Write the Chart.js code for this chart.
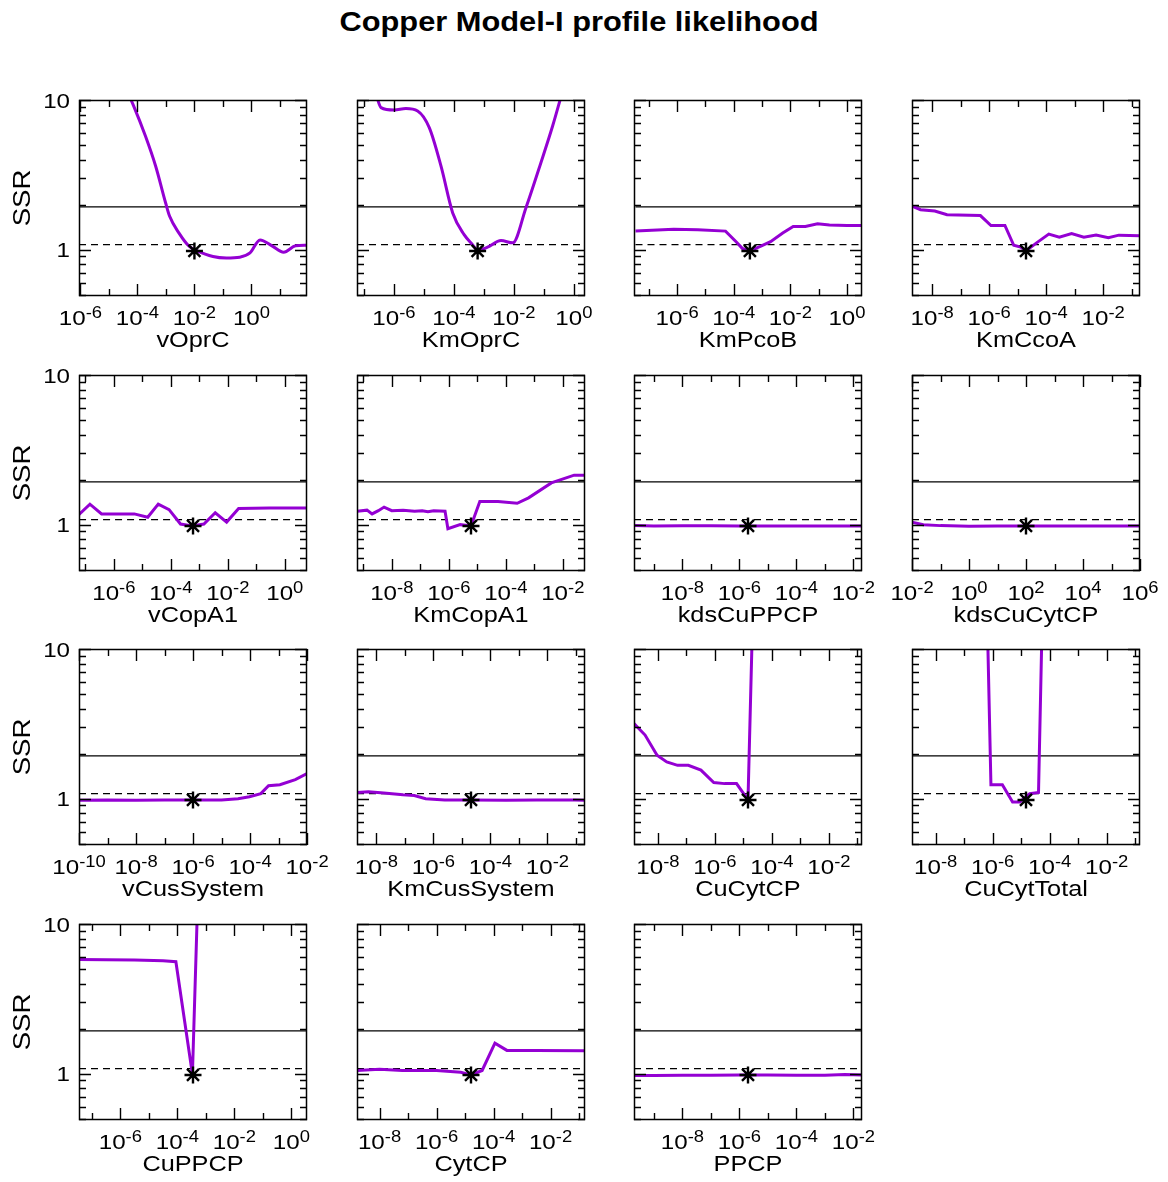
<!DOCTYPE html>
<html><head><meta charset="utf-8">
<script src="https://cdn.jsdelivr.net/npm/chart.js@4.4.1/dist/chart.umd.min.js"></script>
<style>
html,body{margin:0;padding:0;background:#fff;}
#wrap{position:relative;width:1168px;height:1182px;overflow:hidden;background:#fff;}
#title{position:absolute;left:79px;width:1000px;top:5px;text-align:center;font:bold 28px "Liberation Sans",Arial,sans-serif;color:#000;transform:scaleX(1.1);transform-origin:50% 50%;white-space:nowrap;line-height:34px;}
canvas{position:absolute;}
</style></head><body><div id="wrap"><div id="title">Copper Model-I profile likelihood</div></div>
<script>
// ---------------- data ----------------
const paramNames = ['vOprC','KmOprC','KmPcoB','KmCcoA','vCopA1','KmCopA1','kdsCuPPCP','kdsCuCytCP',
  'vCusSystem','KmCusSystem','CuCytCP','CuCytTotal','CuPPCP','CytCP','PPCP'];
const xMin = [8.91e-7, 5.89e-8, 3.39e-8, 1.95e-9, 6.03e-8, 6.03e-10, 2.0e-10, 0.01,
  1e-10, 2.09e-9, 1.45e-9, 1.48e-9, 3.55e-8, 1.62e-9, 2.0e-10];
const xMax = [89.1, 2.34, 3.39, 0.195, 6.03, 6.03e-2, 2.0e-2, 1e6,
  1e-2, 0.209, 0.145, 0.148, 3.55, 0.162, 2.0e-2];
const optX = [1.0e-2, 6.17e-4, 3.72e-4, 1.95e-5, 6.03e-4, 6.03e-6, 2.0e-6, 100,
  1e-6, 2.09e-5, 1.45e-5, 1.48e-5, 3.55e-4, 1.62e-5, 2.0e-6];
const optSSR = [0.98,0.98,0.98,0.98,0.98,0.98,0.98,0.98,0.98,0.98,0.98,0.98,0.98,0.98,0.98];
const ssrThreshold = 1.93;      // solid line
const ssrOptimumBand = 1.08;    // dashed line
const yMin = 0.49, yMax = 10;
const yTickLabels = ['1', '10'];
const yTickValues = [0.5,0.6,0.7,0.8,0.9,1,2,3,4,5,6,7,8,9,10];
const yAxisTitle = 'SSR';
const titleText = 'Copper Model-I profile likelihood';

const vOprC_x = [3.55e-5,7.41e-5,1.91e-4,4.37e-4,9.77e-4,1.35e-3,2.88e-3,6.61e-3,1.15e-2,4.47e-2,0.132,0.389,0.891,2.0,5.25,13.5,35.5,89.1];
const vOprC_ssr = [12.5,9.1,5.74,3.61,2.05,1.67,1.29,1.05,0.99,0.90,0.88,0.89,0.95,1.16,1.06,0.96,1.06,1.07];
const KmOprC_x = [2.51e-7,3.72e-7,1.02e-6,2.51e-6,6.17e-6,1.51e-5,3.72e-5,9.12e-5,2.19e-4,4.17e-4,6.17e-4,1.32e-3,3.72e-3,9.12e-3,2.51e-2,7.94e-2,0.195,0.447];
const KmOprC_ssr = [11,8.9,8.57,8.76,8.44,6.53,3.61,1.76,1.26,1.08,0.99,1.04,1.15,1.11,1.9,3.81,6.7,12];
const KmPcoB_x = [3.39e-8,7.59e-7,5.37e-6,5.13e-5,1.26e-4,2.0e-4,3.72e-4,8.71e-4,2.0e-3,5.37e-3,1.26e-2,3.39e-2,9.12e-2,0.24,1.0,3.39];
const KmPcoB_ssr = [1.33,1.37,1.36,1.33,1.12,1.02,0.98,1.05,1.13,1.29,1.43,1.43,1.49,1.46,1.45,1.45];
const KmCcoA_x = [1.95e-9,3.89e-9,1.23e-8,3.31e-8,4.9e-7,1.15e-6,3.55e-6,7.24e-6,1.26e-5,1.95e-5,4.57e-5,1.23e-4,2.88e-4,7.76e-4,2.09e-3,5.62e-3,1.51e-2,3.55e-2,0.195];
const KmCcoA_ssr = [1.95,1.85,1.81,1.71,1.69,1.45,1.45,1.07,1.04,0.98,1.11,1.27,1.21,1.28,1.21,1.25,1.2,1.25,1.24];
const vCopA1_x = [6.03e-8,1.45e-7,3.72e-7,5.25e-6,1.55e-5,3.63e-5,8.71e-5,2.19e-4,5.62e-4,1.45e-3,3.63e-3,9.12e-3,2.4e-2,0.288,6.03];
const vCopA1_ssr = [1.17,1.37,1.18,1.18,1.12,1.37,1.26,1.01,0.98,1.01,1.2,1.04,1.28,1.29,1.29];
const KmCopA1_x = [6.03e-10,1.35e-9,2.04e-9,3.39e-9,5.37e-9,1e-8,2.51e-8,6.31e-8,1.17e-7,1.86e-7,2.95e-7,7.41e-7,9.33e-7,2.51e-6,6.03e-6,1.23e-5,5.37e-5,2.51e-4,6.31e-4,3.98e-3,2.51e-2,6.03e-2];
const KmCopA1_ssr = [1.23,1.25,1.18,1.24,1.31,1.24,1.25,1.23,1.24,1.22,1.24,1.23,0.94,1.0,0.98,1.43,1.43,1.39,1.51,1.9,2.14,2.14];
const kdsCuPPCP_x = [2.0e-10,1e-9,1e-8,1e-7,1e-6,1e-5,1e-4,1e-3,1e-2,2.0e-2];
const kdsCuPPCP_ssr = [0.985,0.978,0.982,0.982,0.981,0.981,0.98,0.981,0.979,0.978];
const kdsCuCytCP_x = [0.01,0.0251,0.1,1,10,100,1000,1e4,1e5,1e6];
const kdsCuCytCP_ssr = [1.04,1.0,0.985,0.975,0.978,0.98,0.98,0.98,0.978,0.978];
const vCusSystem_x = [1e-10,1e-9,1e-8,1e-7,1e-6,1e-5,3.8e-5,9.55e-5,2.4e-4,4.47e-4,1.12e-3,3.89e-3,1e-2];
const vCusSystem_ssr = [0.975,0.98,0.975,0.978,0.98,0.98,1.0,1.03,1.08,1.22,1.24,1.34,1.47];
const KmCusSystem_x = [2.09e-9,5.25e-9,1.82e-8,8.51e-8,2.14e-7,5.37e-7,2.51e-6,2.09e-5,3.55e-4,4.17e-3,9.12e-2,0.209];
const KmCusSystem_ssr = [1.1,1.11,1.09,1.06,1.05,1.0,0.98,0.98,0.975,0.98,0.98,0.975];
const CuCytCP_x = [1.45e-9,3.55e-9,9.33e-9,2.04e-8,4.9e-8,1.17e-7,3.24e-7,9.12e-7,2.19e-6,5.75e-6,1.45e-5,2.51e-5];
const CuCytCP_ssr = [3.18,2.66,1.95,1.76,1.67,1.67,1.55,1.28,1.26,1.26,0.98,60];
const CuCytTotal_x = [6.31e-7,8.71e-7,2.19e-6,5.01e-6,8.91e-6,2.0e-5,4.07e-5,5.62e-5];
const CuCytTotal_ssr = [20,1.24,1.24,0.95,0.95,1.08,1.1,20];
const CuPPCP_x = [3.55e-8,3.16e-7,3.16e-6,3.16e-5,8.91e-5,3.39e-4,6.31e-4];
const CuPPCP_ssr = [5.8,5.78,5.75,5.68,5.6,0.99,50];
const CytCP_x = [1.62e-9,1e-8,6.31e-8,1e-6,7.08e-6,1.62e-5,3.98e-5,1.12e-4,2.95e-4,3.16e-3,0.162];
const CytCP_ssr = [1.05,1.07,1.05,1.05,1.02,0.98,1.05,1.6,1.43,1.43,1.42];
const PPCP_x = [2.0e-10,1e-9,1e-8,1e-7,1e-6,1e-5,1e-4,1e-3,5.01e-3,2.0e-2];
const PPCP_ssr = [0.97,0.972,0.975,0.975,0.98,0.98,0.975,0.975,0.985,0.978];

const profiles = [
  [vOprC_x, vOprC_ssr], [KmOprC_x, KmOprC_ssr], [KmPcoB_x, KmPcoB_ssr], [KmCcoA_x, KmCcoA_ssr],
  [vCopA1_x, vCopA1_ssr], [KmCopA1_x, KmCopA1_ssr], [kdsCuPPCP_x, kdsCuPPCP_ssr], [kdsCuCytCP_x, kdsCuCytCP_ssr],
  [vCusSystem_x, vCusSystem_ssr], [KmCusSystem_x, KmCusSystem_ssr], [CuCytCP_x, CuCytCP_ssr], [CuCytTotal_x, CuCytTotal_ssr],
  [CuPPCP_x, CuPPCP_ssr], [CytCP_x, CytCP_ssr], [PPCP_x, PPCP_ssr]
];

// ---------------- layout / style ----------------
document.getElementById('title').textContent = titleText;
const COL_LEFT = [79, 357, 634, 912];
const ROW_TOP = [100, 375, 649, 924];
const PW = 228, PH = 196;
const PAD = {left: 80, right: 35, top: 20, bottom: 80};
const CW = PW + PAD.left + PAD.right, CH = PH + PAD.top + PAD.bottom;
const FONT = '"Liberation Sans", Arial, sans-serif';
const SX = 1.15;
const PURPLE = '#9400d3';

function drawText(ctx, s, x, y, size, align) {
  ctx.save();
  ctx.font = size + 'px ' + FONT;
  ctx.translate(x, y);
  ctx.scale(SX, 1);
  ctx.textAlign = align;
  ctx.textBaseline = 'alphabetic';
  ctx.fillStyle = '#000';
  ctx.fillText(s, 0, 0);
  ctx.restore();
}
function textW(ctx, s, size) {
  ctx.save(); ctx.font = size + 'px ' + FONT;
  const w = ctx.measureText(s).width * SX; ctx.restore(); return w;
}

function axesPlugin(i) {
  const col = i % 4;
  return {
    id: 'matlabAxes' + i,
    afterDatasetsDraw(chart) {
      const ctx = chart.ctx, a = chart.chartArea;
      const xs = chart.scales.x, ys = chart.scales.y;
      ctx.save();
      ctx.strokeStyle = '#000';
      ctx.lineWidth = 1.5;
      ctx.strokeRect(a.left + 0.5, a.top + 0.5, a.right - a.left - 1, a.bottom - a.top - 1);
      ctx.lineWidth = 1.4;
      // x ticks (every decade, inward top & bottom)
      const k0 = Math.ceil(Math.log10(xs.min) - 1e-6), k1 = Math.floor(Math.log10(xs.max) + 1e-6);
      for (let k = k0; k <= k1; k++) {
        const px = Math.round(xs.getPixelForValue(Math.pow(10, k))) + 0.5;
        const len = (k % 2 === 0) ? 12 : 7;
        ctx.beginPath();
        ctx.moveTo(px, a.bottom); ctx.lineTo(px, a.bottom - len);
        ctx.moveTo(px, a.top); ctx.lineTo(px, a.top + len);
        ctx.stroke();
        if (k % 2 === 0) {
          const base = '10', ex = String(k);
          const w1 = textW(ctx, base, 21), w2 = textW(ctx, ex, 16);
          const x0 = xs.getPixelForValue(Math.pow(10, k)) - (w1 + w2) / 2;
          drawText(ctx, base, x0, a.bottom + 29, 21, 'left');
          drawText(ctx, ex, x0 + w1, a.bottom + 21.5, 16, 'left');
        }
      }
      // y ticks (both sides, inward)
      yTickValues.forEach(v => {
        if (v < ys.min || v > ys.max) return;
        const py = Math.round(ys.getPixelForValue(v)) + 0.5;
        const major = (v === 1 || v === 10);
        const len = major ? 12 : 7;
        ctx.beginPath();
        ctx.moveTo(a.left, py); ctx.lineTo(a.left + len, py);
        ctx.moveTo(a.right, py); ctx.lineTo(a.right - len, py);
        ctx.stroke();
      });
      if (col === 0) {
        yTickLabels.forEach(lbl => {
          const py = ys.getPixelForValue(Number(lbl));
          drawText(ctx, lbl, a.left - 9, py + 7.5, 21, 'right');
        });
        ctx.save();
        ctx.translate(31, (a.top + a.bottom) / 2);
        ctx.rotate(-Math.PI / 2);
        drawText(ctx, yAxisTitle, 0, 0, 24, 'center');
        ctx.restore();
      }
      drawText(ctx, paramNames[i], (a.left + a.right) / 2, a.bottom + 51, 22, 'center');
      ctx.restore();
    }
  };
}

const wrap = document.getElementById('wrap');
paramNames.forEach((name, i) => {
  const col = i % 4, row = Math.floor(i / 4);
  const c = document.createElement('canvas');
  c.width = CW; c.height = CH;
  c.style.width = CW + 'px'; c.style.height = CH + 'px';
  c.style.left = (COL_LEFT[col] - PAD.left) + 'px';
  c.style.top = (ROW_TOP[row] - PAD.top) + 'px';
  wrap.appendChild(c);
  const [xs, ys] = profiles[i];
  const smooth = (i === 0 || i === 1);
  new Chart(c, {
    type: 'line',
    data: {
      datasets: [
        { label: 'optimum', data: [{x: optX[i], y: optSSR[i]}], showLine: false,
          pointStyle: 'star', pointRadius: 8.5, pointBorderWidth: 2.4,
          pointBorderColor: '#000', pointBackgroundColor: '#000', borderColor: '#000', clip: false },
        { label: name, data: xs.map((x, k) => ({x: x, y: ys[k]})), borderColor: PURPLE,
          borderWidth: 3, pointRadius: 0, tension: 0,
          cubicInterpolationMode: smooth ? 'monotone' : 'default', clip: 0 },
        { label: 'threshold', data: [{x: xMin[i], y: ssrThreshold}, {x: xMax[i], y: ssrThreshold}],
          borderColor: '#000', borderWidth: 1.3, pointRadius: 0, clip: 0 },
        { label: 'band', data: [{x: xMin[i], y: ssrOptimumBand}, {x: xMax[i], y: ssrOptimumBand}],
          borderColor: '#000', borderWidth: 1.3, borderDash: [7, 5], pointRadius: 0, clip: 0 }
      ]
    },
    options: {
      responsive: false, animation: false, devicePixelRatio: 1, events: [],
      layout: {padding: {left: PAD.left, right: PAD.right, top: PAD.top, bottom: PAD.bottom}},
      scales: {
        x: {type: 'logarithmic', min: xMin[i], max: xMax[i], display: false},
        y: {type: 'logarithmic', min: yMin, max: yMax, display: false}
      },
      plugins: {legend: {display: false}, tooltip: {enabled: false}, title: {display: false}}
    },
    plugins: [axesPlugin(i)]
  });
});
</script></body></html>
